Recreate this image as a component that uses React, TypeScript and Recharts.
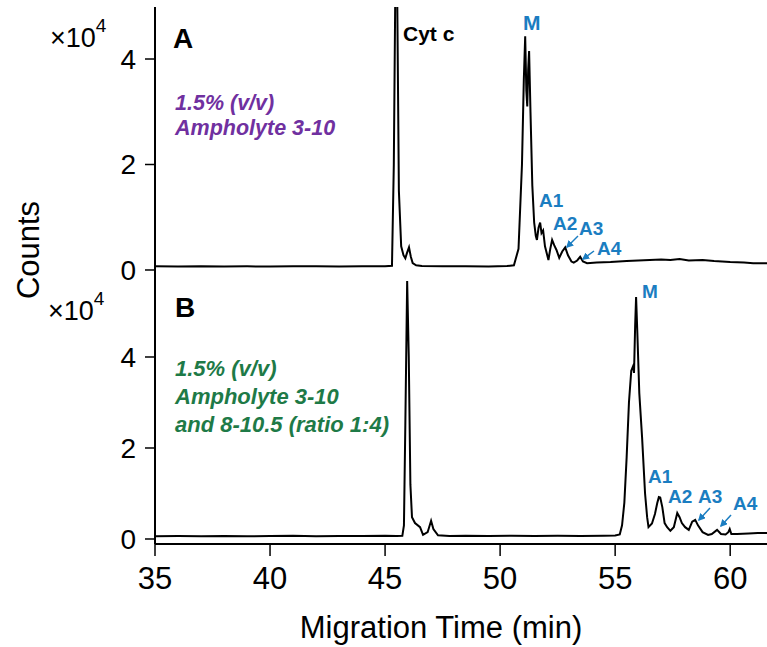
import React from 'react';
import { LineChart, Line, XAxis, YAxis } from 'recharts';

// migration time (min) and counts
const timesA = [
  35.0, 36.0, 37.0, 38.0, 39.0, 40.0, 41.0, 42.0, 43.0, 44.0, 45.0, 45.3, 45.38, 45.45, 45.52, 45.6, 45.7,
  45.8, 45.88, 45.95, 46.04, 46.12, 46.2, 46.35, 46.6, 47.5, 48.5, 49.5, 50.3, 50.6, 50.8, 50.95, 51.03,
  51.09, 51.14, 51.18, 51.22, 51.26, 51.32, 51.4, 51.48, 51.55, 51.6, 51.67, 51.74, 51.8, 51.87, 51.95,
  52.1, 52.18, 52.26, 52.35, 52.45, 52.57, 52.7, 52.83, 52.95, 53.1, 53.2, 53.35, 53.48, 53.6, 53.78,
  54.2, 54.8, 55.5, 56.0, 56.5, 57.0, 57.4, 57.8, 58.2, 58.8, 59.3, 60.0, 60.6, 61.0, 61.6,
];
const countsA = [
  700, 650, 720, 680, 700, 650, 720, 700, 680, 720, 700, 800, 20000, 56000, 56000, 15000, 4500,
  2800, 2200, 3200, 4300, 2500, 1300, 900, 750, 700, 720, 680, 750, 900, 4000, 20000, 36000,
  44300, 34000, 31000, 38000, 41500, 30000, 16000, 9000, 6500, 5700, 8000, 9000, 7000, 7500, 4500,
  1900, 4000, 5700, 4700, 3800, 2300, 3500, 4300, 2800, 1600, 1400, 1800, 2500, 1600, 1300,
  1400, 1500, 1700, 1800, 1900, 2000, 1900, 2100, 1800, 1900, 1700, 1500, 1400, 1300, 1300,
];

const timesB = [
  35.0, 36.0, 37.0, 38.0, 39.0, 40.0, 41.0, 42.0, 43.0, 44.0, 45.0, 45.5, 45.75, 45.82, 45.88, 45.96,
  46.03, 46.1, 46.17, 46.3, 46.52, 46.65, 46.85, 47.0, 47.1, 47.3, 47.8, 48.5, 49.5, 50.5, 51.5, 52.5,
  53.5, 54.5, 55.0, 55.2, 55.3, 55.4, 55.5, 55.6, 55.7, 55.78, 55.82, 55.87, 55.91, 55.96, 56.05,
  56.17, 56.3, 56.39, 56.45, 56.6, 56.73, 56.83, 56.9, 56.96, 57.05, 57.15, 57.26, 57.4, 57.55, 57.7,
  57.8, 57.9, 58.04, 58.2, 58.35, 58.48, 58.6, 58.8, 59.04, 59.2, 59.43, 59.6, 59.8, 59.92, 59.98,
  60.05, 60.3, 60.8, 61.2, 61.6,
];
const countsB = [
  600, 650, 620, 680, 600, 650, 700, 620, 680, 650, 700, 650, 700, 3000, 25000, 56700,
  40000, 12000, 4800, 3500, 2600, 900, 1500, 4000, 2200, 800, 650, 700, 650, 700, 650, 720,
  680, 700, 750, 1000, 3000, 8000, 18000, 30000, 37000, 38000, 36500, 47000, 53200, 46000, 32000,
  22400, 10000, 4800, 2600, 3400, 5500, 7900, 9200, 9100, 7000, 3500, 2600, 1800, 2600, 5700,
  4800, 3500, 2600, 2000, 3800, 4200, 3000, 1500, 900, 1100, 2000, 1100, 1000, 1500, 2200,
  1100, 1100, 1200, 1300, 1300,
];

const xTicks = [35, 40, 45, 50, 55, 60];
const yTicks = [0, 20000, 40000];

const dataA = timesA.map((t, i) => ({ t, c: countsA[i] }));
const dataB = timesB.map((t, i) => ({ t, c: countsB[i] }));

const FONT = '"Liberation Sans", Arial, sans-serif';
const BLUE = '#1b7dc1';
const PURPLE = '#7030a0';
const GREEN = '#1e7a47';
const frame = { stroke: '#000', strokeWidth: 2 };
const xDomain = [35, 61.6];

const App = () => {
  return (
    <div style={{ position: 'absolute', left: 0, top: 0, width: 767, height: 647, background: '#fff', fontFamily: FONT }}>
      <div style={{ position: 'absolute', left: 0, top: 0 }}>
        {/* extra 15px at the bottom so the "0" label is not cut off */}
        <LineChart width={767} height={290} data={dataA} margin={{ top: 7, right: 0, bottom: 15, left: 0 }}>
          <XAxis dataKey="t" type="number" domain={xDomain} allowDataOverflow height={0} tick={false} tickLine={false} axisLine={frame} />
          <XAxis xAxisId="top" orientation="top" dataKey="t" type="number" domain={xDomain} height={0} tick={false} tickLine={false} axisLine={frame} />
          <YAxis
            type="number"
            domain={[-950, 49860]}
            allowDataOverflow
            ticks={yTicks}
            interval={0}
            tickFormatter={(v) => String(v / 10000)}
            width={155}
            tickSize={10}
            tickMargin={9}
            axisLine={frame}
            tickLine={{ stroke: '#000', strokeWidth: 1.5 }}
            tick={{ fontSize: 28, fill: '#000', fontFamily: FONT }}
          />
          <Line dataKey="c" type="linear" stroke="#000" strokeWidth={2} dot={false} isAnimationActive={false} />
        </LineChart>
      </div>
      <div style={{ position: 'absolute', left: 0, top: 275 }}>
        <LineChart width={767} height={372} data={dataB} margin={{ top: 0, right: 0, bottom: 0, left: 0 }}>
          <XAxis
            dataKey="t"
            type="number"
            domain={xDomain}
            allowDataOverflow
            ticks={xTicks}
            interval={0}
            height={103}
            tickSize={12}
            tickMargin={11}
            axisLine={frame}
            tickLine={{ stroke: '#000', strokeWidth: 1.5 }}
            tick={{ fontSize: 31, fill: '#000', fontFamily: FONT }}
          />
          <XAxis xAxisId="top" orientation="top" dataKey="t" type="number" domain={xDomain} height={0} tick={false} tickLine={false} axisLine={frame} />
          <YAxis
            type="number"
            domain={[-1100, 58020]}
            allowDataOverflow
            ticks={yTicks}
            interval={0}
            tickFormatter={(v) => String(v / 10000)}
            width={155}
            tickSize={10}
            tickMargin={9}
            axisLine={frame}
            tickLine={{ stroke: '#000', strokeWidth: 1.5 }}
            tick={{ fontSize: 28, fill: '#000', fontFamily: FONT }}
          />
          <Line dataKey="c" type="linear" stroke="#000" strokeWidth={2} dot={false} isAnimationActive={false} />
        </LineChart>
      </div>

      {/* annotations */}
      <svg width={767} height={647} style={{ position: 'absolute', left: 0, top: 0, pointerEvents: 'none' }} fontFamily={FONT}>
        <defs>
          <marker id="head" viewBox="0 0 10 10" refX="8" refY="5" markerWidth="5" markerHeight="5" orient="auto">
            <path d="M0,0 L10,5 L0,10 z" fill={BLUE} />
          </marker>
        </defs>

        <text x={39} y={250} fontSize={31} textAnchor="middle" transform="rotate(-90 39 250)">Counts</text>
        <text x={441} y={638} fontSize={31} textAnchor="middle">Migration Time (min)</text>

        <text x={50} y={47} fontSize={27}>×10<tspan dy={-15} fontSize={19}>4</tspan></text>
        <text x={48} y={320} fontSize={27}>×10<tspan dy={-15} fontSize={19}>4</tspan></text>

        <text x={173} y={48} fontSize={28} fontWeight="bold">A</text>
        <text x={175} y={317} fontSize={28} fontWeight="bold">B</text>

        <g fill={PURPLE} fontSize={21.5} fontWeight="bold" fontStyle="italic">
          <text x={175} y={110}>1.5% (v/v)</text>
          <text x={175} y={135}>Ampholyte 3-10</text>
        </g>
        <g fill={GREEN} fontSize={22} fontWeight="bold" fontStyle="italic">
          <text x={175} y={376}>1.5% (v/v)</text>
          <text x={175} y={404}>Ampholyte 3-10</text>
          <text x={175} y={432}>and 8-10.5 (ratio 1:4)</text>
        </g>

        <text x={403} y={41} fontSize={21} fontWeight="bold">Cyt c</text>

        <g fill={BLUE} fontSize={19} fontWeight="bold">
          <text x={523} y={30} fontSize={21}>M</text>
          <text x={539} y={207}>A1</text>
          <text x={553} y={230}>A2</text>
          <text x={579} y={235}>A3</text>
          <text x={597} y={255}>A4</text>

          <text x={642} y={298}>M</text>
          <text x={648} y={483}>A1</text>
          <text x={668} y={503}>A2</text>
          <text x={698} y={503}>A3</text>
          <text x={733} y={510}>A4</text>
        </g>
        <g stroke={BLUE} strokeWidth={1.5}>
          <line x1={578} y1={236} x2={567} y2={247} markerEnd="url(#head)" />
          <line x1={594} y1={251} x2={583} y2={259} markerEnd="url(#head)" />
          <line x1={710} y1={508} x2={699} y2={520} markerEnd="url(#head)" />
          <line x1={731} y1={515} x2={721} y2={526} markerEnd="url(#head)" />
        </g>
      </svg>
    </div>
  );
};

export default App;
